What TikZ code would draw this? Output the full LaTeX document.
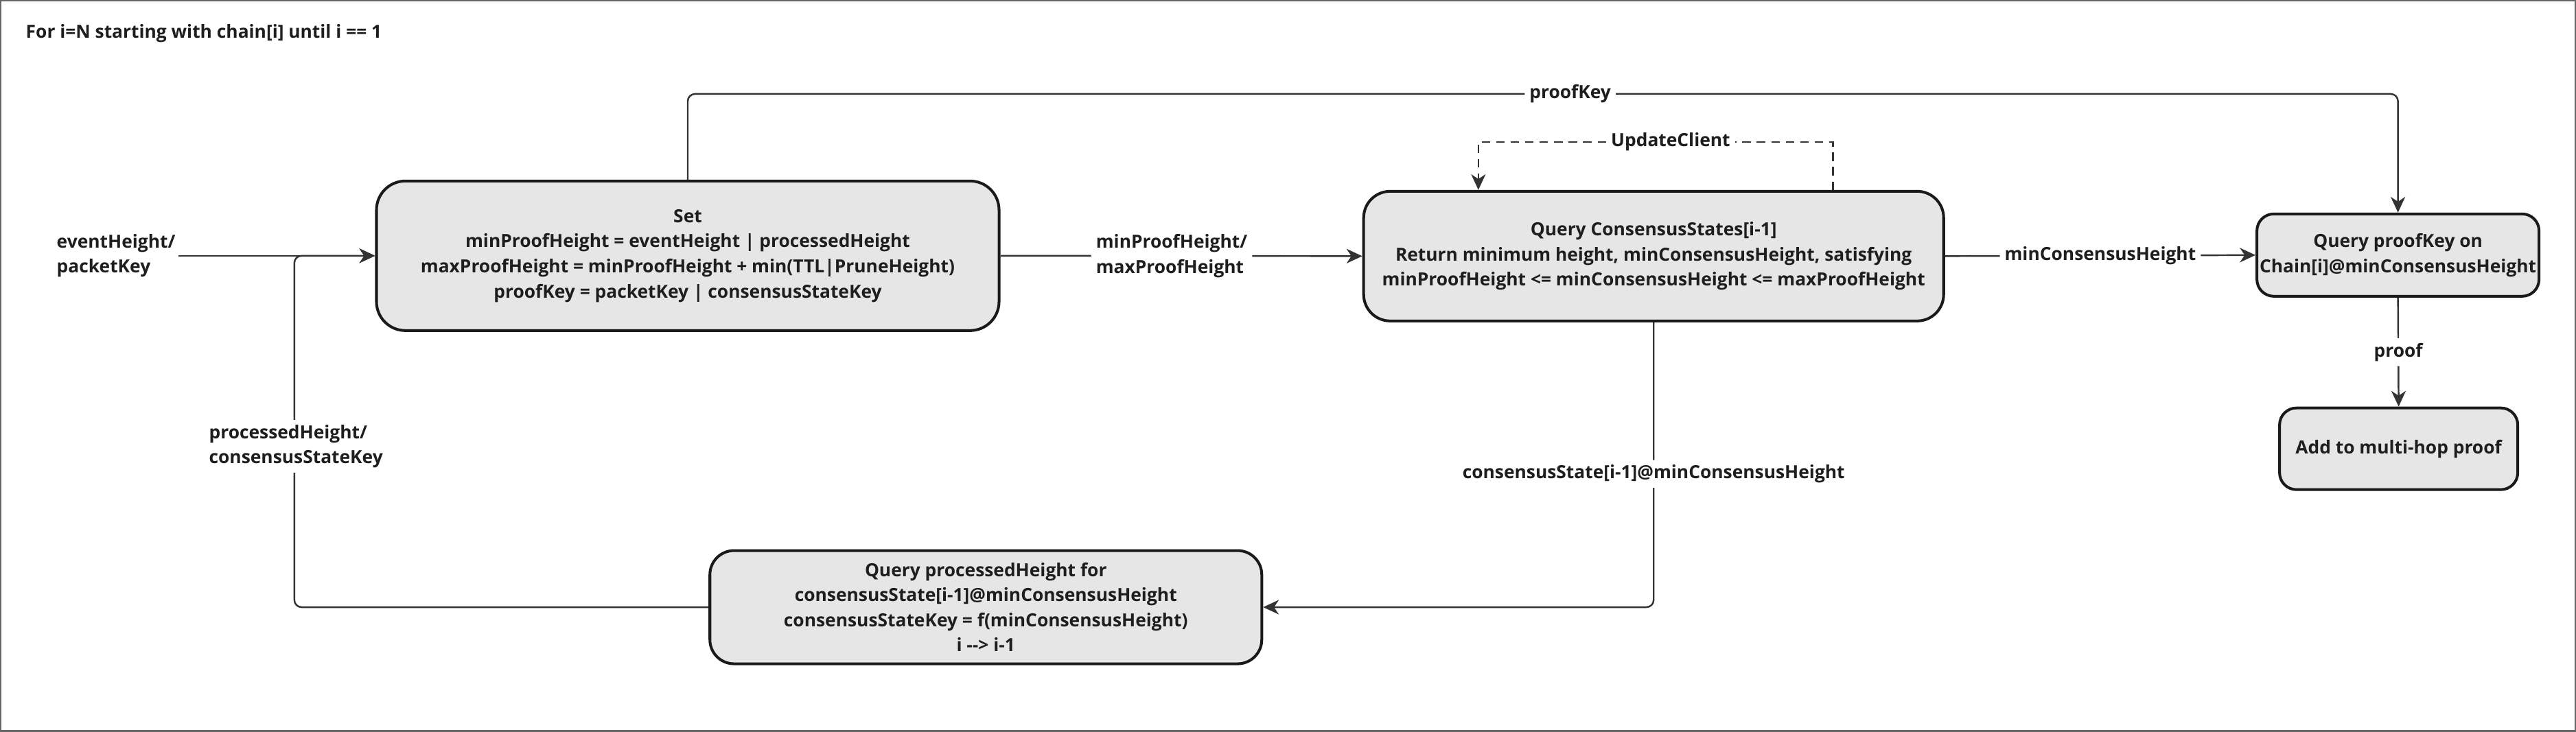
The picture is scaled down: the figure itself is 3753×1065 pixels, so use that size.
\documentclass[tikz,border=0pt]{standalone}
\usepackage{fontspec}
\setmainfont{Open Sans}
\usetikzlibrary{arrows.meta,calc}
\definecolor{boxfill}{HTML}{E6E6E6}
\definecolor{boxline}{HTML}{1A1A1A}
\definecolor{conline}{HTML}{333333}
\definecolor{txt}{HTML}{1E1E1E}
\definecolor{frame}{HTML}{666666}
\begin{document}
\begin{tikzpicture}[x=0.01cm,y=-0.01cm,
  box/.style={draw=boxline, line width=1.15pt, fill=boxfill, rounded corners=12pt, align=center,
    font=\fontsize{7.5}{10.4}\selectfont\bfseries, text=txt, inner sep=0pt},
  smallbox/.style={box, rounded corners=7pt},
  conn/.style={draw=conline, line width=0.7pt, -{Stealth[length=6.5pt,width=6pt,inset=2pt]}, rounded corners=3pt},
  lbl/.style={fill=white, text=txt, font=\fontsize{7.5}{10.4}\selectfont\bfseries, inner sep=2pt, align=left},
  clbl/.style={lbl, align=center}
]
\draw[frame, line width=0.6pt, fill=white] (0,0) rectangle (3753,1065);
\useasboundingbox (0,0) rectangle (3753,1065);

\node[anchor=west, inner sep=0pt, text=txt, font=\fontsize{7.5}{10.4}\selectfont\bfseries] (title) at (36,48) {For i=N starting with chain[i] until i == 1};

\node[box, minimum width=9.07cm, minimum height=2.18cm] (set) at (1001.5,372)
  {Set\\minProofHeight = eventHeight | processedHeight\\maxProofHeight = minProofHeight + min(TTL|PruneHeight)\\proofKey = packetKey | consensusStateKey};
\node[box, rounded corners=11pt, minimum width=8.45cm, minimum height=1.89cm] (qcs) at (2409.5,372.5)
  {Query ConsensusStates[i-1]\\Return minimum height, minConsensusHeight, satisfying\\minProofHeight <= minConsensusHeight <= maxProofHeight};
\node[smallbox, minimum width=4.11cm, minimum height=1.2cm] (qpk) at (3494.5,371)
  {Query proofKey on\\Chain[i]@minConsensusHeight};
\node[smallbox, minimum width=3.47cm, minimum height=1.19cm] (add) at (3495.5,653.5)
  {Add to multi-hop proof};
\node[box, rounded corners=10pt, minimum width=8.04cm, minimum height=1.65cm] (qph) at (1436,884.5)
  {Query processedHeight for\\consensusState[i-1]@minConsensusHeight\\consensusStateKey = f(minConsensusHeight)\\i -{}-> i-1};

% input
\node[lbl, anchor=west, inner sep=0pt] (inl) at (81,372) {eventHeight/\\packetKey};
\draw[conn] (inl.east) ++(4,0) coordinate (inA) -- (inA -| set.west);

% loop back
\coordinate (lp) at (428,884.5);
\draw[conn] (qph.west) -- (lp) |- (set.west);
\node[lbl, anchor=west] (lpl) at (296,650) {processedHeight/\\consensusStateKey};

% set -> qcs
\draw[conn] (set.east) -- (qcs.west) node[lbl, midway, xshift=-4] {minProofHeight/\\maxProofHeight};

% proofKey
\coordinate (pkA) at (1001.5,136);
\draw[conn] (set.north) -- (pkA) -| (qpk.north) node[clbl, pos=0.258] {proofKey};

% UpdateClient
\coordinate (ucR) at (2671,206);
\coordinate (ucL) at (2154,206);
\draw[conn, dashed, dash pattern=on 3.5pt off 2.5pt, rounded corners=0pt] (ucR |- qcs.north) -- (ucR) -- (ucL) node[clbl, pos=0.458] {UpdateClient} -- (ucL |- qcs.north);

% qcs -> qpk
\draw[conn] (qcs.east) -- (qpk.west) node[clbl, midway] {minConsensusHeight};

% qcs -> qph
\draw[conn] (qcs.south) |- (qph.east) node[clbl, pos=0.266] {consensusState[i-1]@minConsensusHeight};

% qpk -> add
\draw[conn] (qpk.south) -- (add.north) node[clbl, midway] {proof};
\end{tikzpicture}
\end{document}
